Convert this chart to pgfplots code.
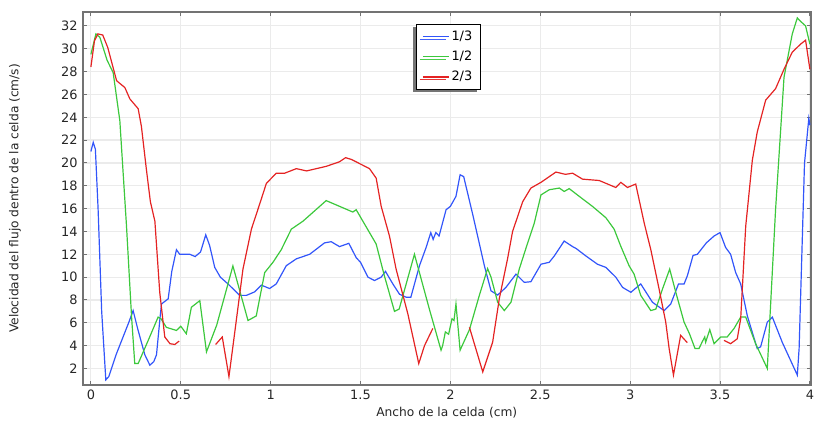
\documentclass[border=0pt]{standalone}
\usepackage{pgfplots}
\pgfplotsset{compat=1.18}
\usepackage{fontspec}
\setmainfont{DejaVu Sans}
\usetikzlibrary{shadows}
\definecolor{cblue}{RGB}{50,85,250}
\definecolor{cgreen}{RGB}{60,200,60}
\definecolor{cred}{RGB}{228,35,35}
\begin{document}
\begin{tikzpicture}
\begin{axis}[
  scale only axis, width=729.7bp, height=373.7bp,
  xmin=-0.045, xmax=4.005, ymin=0.57, ymax=33.22,
  xtick={0,0.5,1,1.5,2,2.5,3,3.5,4},
  xticklabels={0,0.5,1,1.5,2,2.5,3,3.5,4},
  ytick={2,4,...,32},
  grid=major,
  major grid style={color=black!8, line width=1.2bp},
  axis line style={color=black!55, line width=2bp},
  tick style={color=black!55, line width=1bp},
  major tick length=4bp,
  tick align=inside,
  /pgf/number format/assume math mode=true,
  tick label style={font=\fontsize{13}{15}\selectfont, text=black!85},
  xticklabel style={anchor=north, inner sep=0pt}, xticklabel shift=5bp,
  yticklabel style={anchor=east, inner sep=0pt}, yticklabel shift=5bp,
  label style={font=\fontsize{12.3}{14}\selectfont, text=black!85},
  xlabel={Ancho de la celda (cm)},
  ylabel={Velocidad del flujo dentro de la celda (cm/s)},
  xlabel style={at={(axis description cs:0.5,-0.0749)}, anchor=center},
  ylabel style={at={(axis description cs:-0.0932,0.5)}, anchor=center, rotate=0},
  unbounded coords=jump,
  every axis plot/.append style={line width=1.2bp},
  legend cell align=left,
  legend image code/.code={\draw[#1] (0bp,0bp) -- (26bp,0bp);},
  legend style={at={(axis description cs:0.4577,0.968)}, anchor=north west,
    font=\fontsize{13}{15}\selectfont, draw=black, line width=0.8bp, fill=white,
    inner xsep=6bp, inner ysep=5bp, row sep=5bp,
    drop shadow={shadow xshift=-3bp, shadow yshift=-3bp, fill=black!60, opacity=0.9}},
]
% 1/3
\addplot[cblue] coordinates {
(0,21.0) (0.013,21.8) (0.025,21.2) (0.04,16) (0.06,7) (0.083,1.0) (0.1,1.3) (0.14,3.2) (0.18,4.8) (0.21,6.0)
(0.235,7.07) (0.26,5.5) (0.3,3.2) (0.328,2.29) (0.35,2.6) (0.365,3.2) (0.385,6.5) (0.393,7.65) (0.43,8.1) (0.45,10.5)
(0.476,12.4) (0.494,12.0) (0.55,12.0) (0.58,11.8) (0.61,12.2) (0.639,13.7) (0.66,12.8) (0.689,10.85) (0.72,10.0) (0.763,9.4)
(0.828,8.4) (0.865,8.4) (0.91,8.7) (0.948,9.3) (0.994,9.0) (1.031,9.4) (1.087,11.0) (1.143,11.6) (1.217,12.0) (1.3,13.0)
(1.337,13.1) (1.383,12.67) (1.435,12.96) (1.476,11.7) (1.5,11.3) (1.541,10.0) (1.578,9.7) (1.615,10.0) (1.639,10.5) (1.68,9.4)
(1.717,8.5) (1.754,8.24) (1.78,8.24) (1.828,11.0) (1.865,12.6) (1.891,13.9) (1.904,13.3) (1.919,13.9) (1.937,13.6) (1.976,15.9)
(2.0,16.2) (2.031,17.07) (2.054,18.96) (2.074,18.8) (2.124,15.5) (2.189,11.0) (2.226,8.8) (2.263,8.43) (2.309,9.1) (2.365,10.26)
(2.411,9.54) (2.448,9.6) (2.504,11.13) (2.55,11.3) (2.578,11.85) (2.633,13.16) (2.68,12.67) (2.70,12.5) (2.754,11.85) (2.818,11.13)
(2.865,10.85) (2.92,10.0) (2.958,9.1) (3.004,8.67) (3.059,9.4) (3.124,7.8) (3.189,7.07) (3.226,7.65) (3.269,9.4) (3.3,9.4)
(3.318,10.1) (3.35,11.9) (3.374,12.0) (3.424,13.0) (3.467,13.6) (3.5,13.9) (3.531,12.6) (3.559,12.0) (3.587,10.4) (3.615,9.4)
(3.652,6.6) (3.707,3.74) (3.726,3.9) (3.763,6.06) (3.791,6.5) (3.846,4.3) (3.93,1.42) (3.94,3.74) (3.97,19.97) (3.994,23.9) (4.0,23.3)
};
\addlegendentry{1/3}
% 1/2
\addplot[cgreen] coordinates {
(0,29.5) (0.028,31.3) (0.05,31.0) (0.09,29) (0.124,27.9) (0.161,23.7) (0.198,14.5) (0.226,6.6) (0.244,2.43) (0.263,2.43)
(0.32,4.5) (0.374,6.5) (0.39,6.35) (0.42,5.6) (0.476,5.33) (0.50,5.7) (0.531,5.04) (0.559,7.36) (0.606,7.94) (0.643,3.45)
(0.7,5.8) (0.79,10.98) (0.874,6.2) (0.92,6.6) (0.967,10.4) (1.013,11.3) (1.059,12.4) (1.115,14.2) (1.18,14.9) (1.309,16.7)
(1.457,15.7) (1.476,15.9) (1.587,12.9) (1.633,10.1) (1.689,7.0) (1.715,7.2) (1.8,12.0) (1.883,7.2) (1.948,3.6) (1.957,4.0)
(1.972,5.2) (1.99,5.0) (2.009,6.35) (2.02,6.2) (2.031,7.65) (2.054,3.6) (2.106,5.4) (2.161,8.4) (2.207,10.75) (2.226,10.0)
(2.263,7.8) (2.3,7.07) (2.337,7.8) (2.383,10.7) (2.43,13.0) (2.467,14.75) (2.504,17.2) (2.55,17.65) (2.606,17.8) (2.633,17.5)
(2.661,17.75) (2.717,17.07) (2.79,16.2) (2.865,15.2) (2.911,14.2) (2.948,12.7) (2.994,11.0) (3.022,10.26) (3.059,8.4) (3.115,7.07)
(3.143,7.2) (3.18,8.96) (3.22,10.7) (3.254,8.67) (3.3,6.06) (3.33,5.04) (3.361,3.74) (3.383,3.74) (3.4,4.3) (3.415,4.76)
(3.42,4.3) (3.443,5.4) (3.467,4.17) (3.504,4.76) (3.54,4.76) (3.578,5.5) (3.615,6.5) (3.643,6.5) (3.698,4.17) (3.763,2.0)
(3.809,15.9) (3.856,27.5) (3.902,31.3) (3.93,32.7) (3.948,32.4) (3.976,32.0) (4.0,30.4)
};
\addlegendentry{1/2}
% 2/3
\addplot[cred] coordinates {
(0,28.4) (0.02,30.7) (0.039,31.3) (0.066,31.2) (0.094,30.1) (0.143,27.2) (0.189,26.6) (0.217,25.6) (0.263,24.75) (0.281,23.2)
(0.309,19.4) (0.331,16.6) (0.356,14.9) (0.383,8.67) (0.411,4.76) (0.44,4.17) (0.467,4.1) (0.491,4.4) (0.6,nan)
(0.694,4.1) (0.731,4.76) (0.768,1.28) (0.794,4.4) (0.846,10.7) (0.893,14.2) (0.939,16.4) (0.976,18.2) (1.031,19.1) (1.078,19.1)
(1.143,19.5) (1.2,19.3) (1.309,19.7) (1.383,20.1) (1.417,20.46) (1.45,20.3) (1.55,19.5) (1.587,18.67) (1.615,16.2) (1.661,13.6)
(1.698,10.7) (1.763,6.8) (1.824,2.43) (1.856,4.0) (1.902,5.5) (2.0,nan)
(2.106,5.6) (2.18,1.7) (2.235,4.3) (2.272,8.1) (2.318,11.6) (2.346,14.0) (2.402,16.6) (2.448,17.8) (2.504,18.3) (2.587,19.2)
(2.64,19.0) (2.68,19.1) (2.735,18.58) (2.828,18.46) (2.92,17.85) (2.948,18.3) (2.985,17.85) (3.031,18.15) (3.078,14.75) (3.115,12.4)
(3.161,8.96) (3.198,6.06) (3.217,3.74) (3.241,1.42) (3.281,4.9) (3.318,4.26) (3.4,nan)
(3.522,4.46) (3.559,4.17) (3.596,4.6) (3.615,6.35) (3.643,14.46) (3.68,20.26) (3.707,22.7) (3.754,25.5) (3.809,26.5) (3.856,28.2)
(3.902,29.7) (3.948,30.4) (3.976,30.75) (4.0,28.2)
};
\addlegendentry{2/3}
\end{axis}
\path (current axis.south west) ++(-83bp,-37.3bp) rectangle ++(814bp,423bp);
\end{tikzpicture}
\end{document}
